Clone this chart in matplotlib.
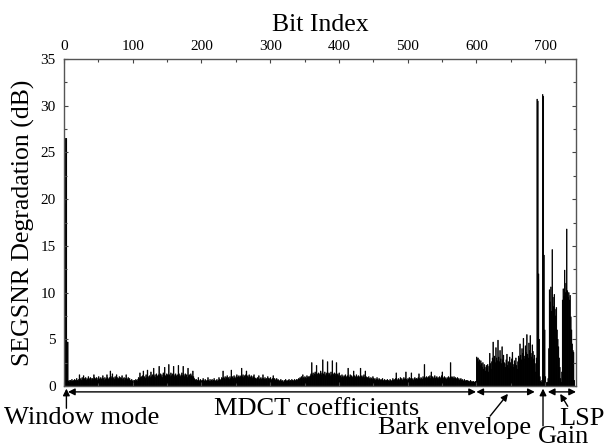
import matplotlib
matplotlib.use("Agg")
import matplotlib.pyplot as plt
import numpy as np

plt.rcParams['font.family'] = ['Liberation Serif', 'DejaVu Serif']

# ---- data (SEGSNR degradation in dB per bit) ----
window_mode = [14.5, 19.5, 26.5, 26.5, 4.7, 4.7]

mdct = [
    # A
    0.5, 0.6, 0.4, 0.6, 0.5, 0.7, 0.5, 0.6, 0.5, 0.7, 0.6, 0.5, 0.8, 0.6, 0.5, 0.7,
    # B
    1.2, 0.7, 0.8, 0.6, 0.9, 0.7, 1.1, 0.8, 0.7, 0.9, 0.6, 0.8, 0.7, 1.0, 0.8, 0.7, 0.9, 0.8, 0.6, 0.8,
    0.7, 1.2, 0.9, 0.8, 0.7, 0.9, 0.6, 0.8, 1.0, 0.7, 0.8, 0.9, 0.7, 0.8, 1.1, 0.8, 0.6, 0.9, 0.7, 0.8,
    1.2, 0.9, 0.7, 0.8,
    # C
    0.9, 1.6, 1.0, 0.8, 1.3,
    # D
    0.8, 0.9, 0.7, 1.0, 0.8, 1.2, 0.9, 0.7, 0.8, 1.0, 0.7, 0.9, 0.8, 1.1, 0.7, 0.8, 0.9, 0.6, 0.8, 1.2,
    0.8, 0.7, 0.9, 0.7, 0.8,
    # E
    0.6, 0.5, 0.7, 0.5, 0.6, 0.4, 0.6, 0.5, 0.7, 0.6, 0.5,
    # F
    0.7, 0.9, 0.8, 1.4, 0.9, 1.0, 0.8, 1.1, 1.6, 0.9, 1.0, 0.8, 1.2, 0.9, 1.7, 1.0, 0.8, 1.1, 0.9, 1.5,
    1.0, 1.2,
    # G
    1.1, 1.9, 1.0, 1.2, 0.9, 1.3, 1.1, 1.0, 1.2, 2.1, 1.1, 1.3, 1.0, 1.2, 0.9, 1.4, 1.2, 2.0, 1.1, 1.0,
    1.3, 1.2, 1.1, 2.3, 1.2, 1.0, 1.4, 1.1, 1.3, 1.2, 2.1, 1.0, 1.2, 1.3, 1.1, 0.9, 1.2, 2.2, 1.3, 1.1,
    1.0, 1.2, 1.4, 1.1, 2.1, 1.2, 1.0, 1.3, 1.1, 1.2, 0.9, 1.9, 1.1, 1.2, 1.0, 1.3, 1.1, 1.0, 1.6, 1.0,
    # H
    0.8, 0.7, 0.6, 0.7, 0.5, 0.6, 0.9, 0.6, 0.5, 0.7, 0.6, 0.5, 0.6, 0.8, 0.6, 0.5, 0.7, 0.6, 0.5, 0.6,
    0.9, 0.6, 0.5, 0.7, 0.5, 0.6, 0.7, 0.5, 0.6, 0.8, 0.6, 0.5, 0.6, 0.7, 0.5, 0.6, 0.9, 0.7, 0.6,
    # I
    0.7, 0.9, 0.8, 1.6, 0.9, 0.8, 1.0, 0.7, 0.9, 1.1, 0.8, 0.9, 0.7, 1.0, 0.8, 1.7, 0.9, 1.0, 0.8, 1.1,
    0.9, 0.8, 1.0, 1.2, 0.9, 1.0, 1.1, 0.9, 1.0,
    # J
    1.1, 1.9, 1.0, 1.2, 0.9, 1.1, 1.0, 1.2, 1.6, 1.0, 1.1, 0.9, 1.2, 1.0, 0.9, 1.1, 1.0, 0.8, 1.0, 1.2,
    0.9, 0.8,
    # K
    0.8, 0.7, 0.9, 0.8, 1.1, 0.7, 0.8, 0.9, 0.7, 0.8, 1.2, 0.8, 0.7, 0.9, 0.7, 0.8, 0.6, 1.0, 0.8, 0.7,
    0.8, 0.9, 0.7, 0.6, 0.8, 1.1, 0.7, 0.8, 0.6, 0.7, 0.8, 0.6, 0.7,
    # L
    0.6, 0.5, 0.6, 0.7, 0.5, 0.6, 0.5, 0.4, 0.6, 0.5, 0.7, 0.5, 0.6, 0.5, 0.6, 0.7, 0.5, 0.6, 0.5, 0.7,
    0.6, 0.5, 0.6, 0.7, 0.6, 0.5, 0.7, 0.6, 0.7,
    # M
    0.8, 0.7, 0.9, 0.8, 1.0, 0.8, 1.2, 0.9, 0.8, 1.0, 0.9, 0.8, 1.1, 0.9, 1.0, 0.8, 1.0, 1.1,
    # N
    1.3, 2.5, 1.2, 1.4, 1.1, 1.3, 1.5, 1.2, 2.2, 1.3, 1.1, 1.4, 1.2, 1.3, 1.6, 1.2, 1.4, 2.8, 1.3, 1.2,
    1.5, 1.1, 1.3, 1.4, 2.6, 1.2, 1.4, 1.3, 1.1, 1.5, 1.2, 2.7, 1.3, 1.2, 1.4, 1.1, 1.3, 2.5, 1.2, 1.3,
    1.1, 1.4,
    # O
    1.0, 1.1, 0.9, 1.2, 1.0, 0.9, 1.1, 1.0, 1.2, 0.9, 1.0, 1.1, 1.9, 1.0, 0.9, 1.2, 1.0, 1.1, 0.9, 1.0,
    1.6, 1.1, 0.9, 1.0, 1.2, 0.9, 1.0, 1.1, 0.9, 1.0, 1.9, 1.0, 1.1, 0.9, 1.0, 1.2, 0.9, 1.6, 1.0, 0.9,
    # P
    0.9, 0.8, 1.0, 0.8, 0.7, 0.9, 0.8, 0.7, 1.0, 0.8, 0.7, 0.8, 0.6, 0.7, 0.9, 0.7, 0.6, 0.8, 0.7, 0.6,
    0.7, 0.6, 0.8, 0.6, 0.5, 0.7, 0.6, 0.5, 0.6, 0.7, 0.5, 0.6, 0.5, 0.7, 0.6, 0.5, 0.6, 0.8, 0.6,
    # Q
    0.7, 0.6, 0.8, 1.4, 0.7, 0.6, 0.8, 0.7, 0.6, 0.9, 0.7, 0.8, 0.6, 0.7, 0.9, 0.7, 0.8, 1.5, 0.7, 0.6,
    0.8, 0.7, 0.9, 0.7, 0.8, 1.4, 0.8, 0.7, 0.6, 0.8, 0.9, 0.7, 0.8,
    # R
    0.8, 0.7, 0.9, 1.3, 0.8, 0.7, 0.9, 0.8, 0.7, 1.0, 0.8, 2.3, 0.9, 0.8, 1.0,
    # S
    0.9, 0.8, 1.0, 0.9, 1.1, 0.8, 1.5, 0.9, 1.0, 0.8, 0.9, 1.1, 0.8, 0.9, 1.0, 0.8, 0.9, 0.7, 1.0, 0.8,
    0.9, 1.1, 1.5, 0.9, 0.8, 1.0, 0.9, 0.8, 0.7, 0.9, 0.8, 1.0, 0.8, 0.9, 2.5, 0.9,
    # T
    1.0, 0.9, 0.8, 1.0, 0.8, 0.9, 0.7, 0.8, 0.9, 0.7, 0.8, 0.6, 0.7, 0.8, 0.6, 0.7, 0.6, 0.5, 0.7, 0.6,
    0.5, 0.6, 0.5, 0.6, 0.5, 0.4, 0.5, 0.6, 0.4, 0.5, 0.4, 0.5, 0.4, 0.4, 0.5, 0.4,
]

bark_envelope = [
    3.1, 2.9, 3.0, 2.6, 2.8, 2.2, 2.7, 2.4, 2.0, 2.5, 1.8, 2.3,
    2.0, 1.6, 2.2, 1.9, 2.3, 1.5, 2.1, 3.5, 2.4, 1.8, 2.6,
    3.0, 4.7, 2.8, 3.2, 2.5, 4.1, 3.0, 2.7, 4.9, 3.1, 2.6, 3.8, 2.9, 2.4, 4.2, 2.8, 3.3, 2.5,
    2.4, 2.0, 2.8, 3.4, 2.2, 2.6, 1.9, 3.1, 2.5, 2.1, 2.9, 3.6, 2.3, 2.0, 2.7, 2.4, 3.0, 2.2, 1.8, 2.6, 3.2,
    3.0, 4.5, 3.3, 2.8, 4.0, 3.5, 5.1, 3.2, 2.9, 4.3, 3.6, 5.5, 3.4, 3.0, 4.6, 3.8, 5.4, 3.5, 3.1, 4.4,
    3.7, 2.9, 3.3, 2.4, 1.5,
]

gain = [3.0, 30.7, 30.5, 12.0, 5.0, 1.0, 0.5, 0.4, 0.6, 31.2, 31.0, 14.0, 6.0, 1.0, 0.4, 0.3, 0.4]

lsp = [0.8, 4.0, 10.3, 9.0, 10.6, 8.0, 14.6, 9.5, 8.5, 9.8, 8.2, 7.5, 8.4, 6.0, 5.0, 4.2, 3.0, 2.0,
       0.8, 0.4, 1.5, 9.2, 10.4, 9.6, 12.4, 10.0, 11.0, 16.8, 10.2, 9.5, 10.0, 9.2, 9.7, 7.4, 6.0, 4.5,
       3.8, 3.6, 0.6]

top_ticks = [0, 100, 200, 300, 400, 500, 600, 700]
y_ticks = [0, 5, 10, 15, 20, 25, 30, 35]

values = np.array(window_mode + mdct + bark_envelope + gain + lsp)
bits = np.arange(len(values))

fig = plt.figure(figsize=(6.09, 4.47), dpi=100)
ax = fig.add_axes([64 / 609, 1 - 386 / 447, (576 - 64) / 609, (386 - 59) / 447])

ax.bar(bits, values, width=1.0, align='edge', color='black', edgecolor='black',
       linewidth=0.45, snap=False)

ax.set_xlim(0, 745)
ax.set_ylim(0, 35)

ax.xaxis.tick_top()
ax.xaxis.set_label_position('top')
ax.set_xticks(top_ticks)
ax.set_xticks(np.arange(50, 745, 100), minor=True)
ax.set_yticks(y_ticks)
ax.set_yticks(np.arange(2.5, 35, 5), minor=True)
ax.tick_params(axis='both', which='both', direction='in', top=True, bottom=True,
               left=True, right=True, labelbottom=False, labeltop=True,
               width=0.8, color='#444444')
ax.tick_params(axis='both', which='major', length=3, labelsize=11)
ax.tick_params(axis='both', which='minor', length=2.5)
ax.tick_params(axis='x', pad=4)
ax.tick_params(axis='y', pad=6)
for s in ax.spines.values():
    s.set_color('#555555')
    s.set_linewidth(1.0)

ax.set_xlabel('Bit Index', fontsize=18.5, labelpad=7)
ax.set_ylabel('SEGSNR Degradation (dB)', fontsize=18.5, labelpad=4)

tr = ax.get_xaxis_transform()
ap2 = dict(arrowstyle='<|-|>', color='black', lw=1.0, mutation_scale=10, shrinkA=0, shrinkB=0)
ap1 = dict(arrowstyle='-|>', color='black', lw=1.0, mutation_scale=10, shrinkA=0, shrinkB=0)

# section arrows
ax.annotate('', xy=(5.8, -0.018), xytext=(599.5, -0.018), xycoords=tr, textcoords=tr,
            arrowprops=ap2, annotation_clip=False)
ax.annotate('', xy=(600, -0.018), xytext=(685, -0.018), xycoords=tr, textcoords=tr,
            arrowprops=ap2, annotation_clip=False)
ax.annotate('', xy=(704, -0.018), xytext=(745, -0.018), xycoords=tr, textcoords=tr,
            arrowprops=ap2, annotation_clip=False)
# window mode
ax.annotate('', xy=(3.5, -0.008), xytext=(3.5, -0.068), xycoords=tr, textcoords=tr,
            arrowprops=ap1, annotation_clip=False)
# gain
ax.annotate('', xy=(697, -0.008), xytext=(697, -0.122), xycoords=tr, textcoords=tr,
            arrowprops=ap1, annotation_clip=False)
# bark pointer
ax.annotate('', xy=(646, -0.024), xytext=(620, -0.092), xycoords=tr, textcoords=tr,
            arrowprops=ap1, annotation_clip=False)
# lsp pointer
ax.annotate('', xy=(722, -0.024), xytext=(733, -0.062), xycoords=tr, textcoords=tr,
            arrowprops=ap1, annotation_clip=False)

tk = dict(transform=tr, fontsize=19, ha='center', va='baseline', clip_on=False)
ax.text(26, -0.116, 'Window mode', **tk)
ax.text(368, -0.089, 'MDCT coefficients', **tk)
ax.text(569, -0.147, 'Bark envelope', **tk)
ax.text(727, -0.174, 'Gain', **tk)
ax.text(754, -0.118, 'LSP', **tk)

fig.savefig('out.png', dpi=100)
